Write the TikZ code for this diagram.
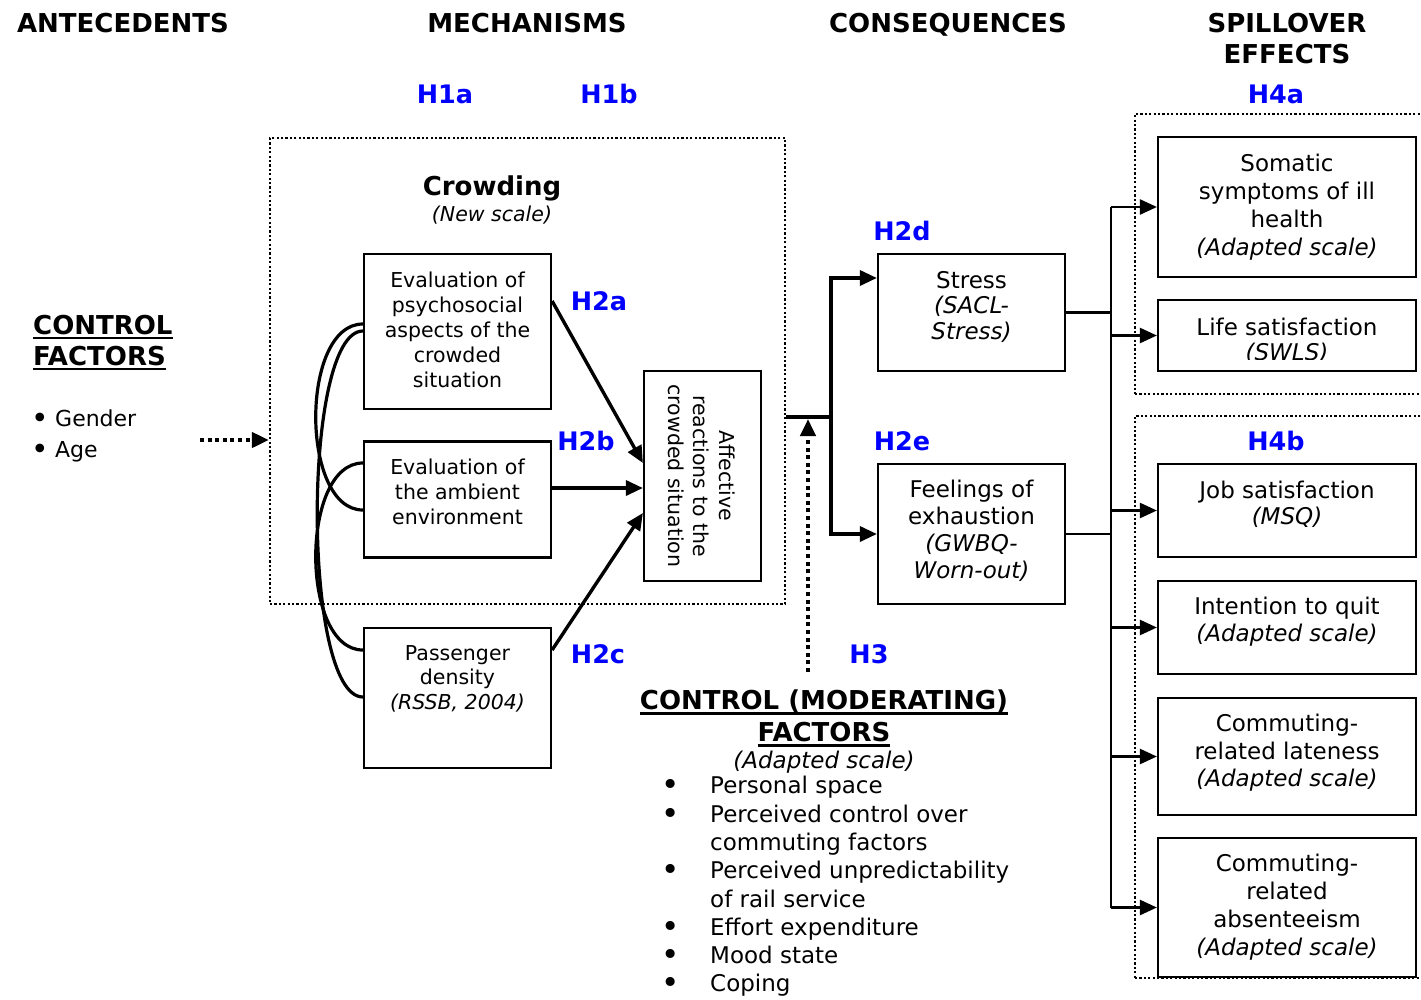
\documentclass[tikz,border=0pt]{standalone}
\usepackage{fontspec}
\setmainfont{DejaVu Sans}
\usetikzlibrary{arrows.meta}
\definecolor{hypblue}{RGB}{0,0,255}
% thick underline for the factor headings
\newcommand\thickul[1]{\setbox0\hbox{#1}\rlap{\rule[-5.3pt]{\wd0}{2.8pt}}\box0}
% list bullet, a little larger than the text
\newcommand\bul{\raisebox{-2pt}{\scalebox{1.35}{•}}}
\begin{document}
\begin{tikzpicture}[x=1pt,y=-1pt,
  txt/.style={align=center, inner sep=0pt},
  sm/.style={txt, font=\fontsize{20.5}{25}\selectfont},
  lg/.style={txt, font=\fontsize{23}{#1}\selectfont},
  lg/.default=28,
  hd/.style={txt, font=\fontsize{26}{31}\selectfont\bfseries},
  hyp/.style={hd, font=\fontsize{25.5}{31}\selectfont\bfseries, text=hypblue},
  box/.style={draw, line width=2.2pt, inner sep=0pt},
  dotbox/.style={draw, line width=2.2pt, dash pattern=on 2.2pt off 2.2pt, inner sep=0pt},
  link/.style={line width=3.2pt},
  thinlink/.style={line width=2.8pt},
  corr/.style={line width=3.2pt},
  tip/.style={-{Triangle[length=17pt,width=15pt]}},
  arr/.style={line width=3.4pt, tip},
  thinarr/.style={line width=2.4pt, tip},
  dotarr/.style={line width=4pt, dash pattern=on 4pt off 3.6pt, tip},
]
\useasboundingbox (0,0) rectangle (1421,999);

% column headings
\node[hd] (hant) at (123,23) {ANTECEDENTS};
\node[hd] (hmech) at (527,23) {MECHANISMS};
\node[hd] (hcons) at (948,25) {CONSEQUENCES};
\node[hd] (hspill) at (1287,39) {SPILLOVER\\EFFECTS};

% hypothesis labels
\node[hyp] (h1a) at (445,94) {H1a};
\node[hyp] (h1b) at (609,94) {H1b};
\node[hyp] (h4a) at (1276,94) {H4a};
\node[hyp] (h2a) at (599,301) {H2a};
\node[hyp] (h2b) at (586,441) {H2b};
\node[hyp] (h2c) at (598,654) {H2c};
\node[hyp] (h2d) at (902,231) {H2d};
\node[hyp] (h2e) at (902,441) {H2e};
\node[hyp] (h3) at (869,654) {H3};
\node[hyp] (h4b) at (1276,441) {H4b};

% control factors (antecedents)
\node[hd, align=left, anchor=west] (ctrl) at (33,342.5) {\thickul{CONTROL}\\\thickul{FACTORS}};
\node[txt, font=\fontsize{22}{31}\selectfont, align=left, anchor=west] (ctrllist) at (31,436)
  {\makebox[24pt][l]{\bul}Gender\\\makebox[24pt][l]{\bul}Age};

% crowding block
\node[dotbox, minimum width=515pt, minimum height=466pt] (crowd) at (527.5,371) {};
\node[hd] (crowdt) at (492,188) {Crowding};
\node[sm] (crowds) at (492,215) {\textit{(New scale)}};

\node[box, minimum width=187pt, minimum height=155pt] (psy) at (457.5,331.5) {};
\node[sm] (psyt) at (457.5,330) {Evaluation of\\psychosocial\\aspects of the\\crowded\\situation};
\node[box, minimum width=187pt, minimum height=116pt] (amb) at (457.5,499.5) {};
\node[sm] (ambt) at (457.5,492) {Evaluation of\\the ambient\\environment};
\node[box, minimum width=187pt, minimum height=140pt] (pd) at (457.5,698) {};
\node[sm, font=\fontsize{20.5}{24.5}\selectfont] (pdt) at (457.5,678.5) {Passenger\\density\\\textit{(RSSB, 2004)}};
\node[box, minimum width=117pt, minimum height=210pt] (aff) at (702.5,476) {};
\node[sm, font=\fontsize{20.5}{25.5}\selectfont, rotate=-90] (afft) at (701.5,476)
  {Affective\\reactions to the\\crowded situation};

% consequences
\node[box, minimum width=187pt, minimum height=117pt] (stress) at (971.5,312.5) {};
\node[lg=25.5] (stresst) at (971.5,306.5) {Stress\\\textit{(SACL-}\\\textit{Stress)}};
\node[box, minimum width=187pt, minimum height=140pt] (exh) at (971.5,534) {};
\node[lg=27] (exht) at (971.5,530.5) {Feelings of\\exhaustion\\\textit{(GWBQ-}\\\textit{Worn-out)}};

% spillover effects
\node[dotbox, minimum width=295pt, minimum height=280pt] (grpa) at (1282.5,254) {};
\node[dotbox, minimum width=295pt, minimum height=562pt] (grpb) at (1282.5,697) {};

\node[box, minimum width=258pt, minimum height=140pt] (som) at (1287,207) {};
\node[lg] (somt) at (1287,207) {Somatic\\symptoms of ill\\health\\\textit{(Adapted scale)}};
\node[box, minimum width=258pt, minimum height=71pt] (life) at (1287,335.5) {};
\begin{scope}
  \clip (1160,300) rectangle (1414,359.5);
  \node[lg=25.5] (lifet) at (1287,341) {Life satisfaction\\\textit{(SWLS)}};
\end{scope}
\node[box, minimum width=258pt, minimum height=93pt] (job) at (1287,510.5) {};
\node[lg=26] (jobt) at (1287,504.5) {Job satisfaction\\\textit{(MSQ)}};
\node[box, minimum width=258pt, minimum height=93pt] (quit) at (1287,627.5) {};
\node[lg=27] (quitt) at (1287,622) {Intention to quit\\\textit{(Adapted scale)}};
\node[box, minimum width=258pt, minimum height=117pt] (late) at (1287,756.5) {};
\node[lg=27.5] (latet) at (1287,753) {Commuting-\\related lateness\\\textit{(Adapted scale)}};
\node[box, minimum width=258pt, minimum height=139pt] (abs) at (1287,907.5) {};
\node[lg] (abst) at (1287,907.5) {Commuting-\\related\\absenteeism\\\textit{(Adapted scale)}};

% moderating factors
\node[hd, font=\fontsize{26}{32}\selectfont\bfseries] (mod) at (824,718)
  {\thickul{CONTROL (MODERATING)}\\\thickul{FACTORS}};
\node[lg] (mods) at (824,762.5) {\textit{(Adapted scale)}};
\node[txt, font=\fontsize{23}{28.3}\selectfont, align=left, anchor=west] (modlist) at (661,886.5)
  {\makebox[49pt][l]{\bul}Personal space\\
   \makebox[49pt][l]{\bul}Perceived control over\\
   \hspace*{49pt}commuting factors\\
   \makebox[49pt][l]{\bul}Perceived unpredictability\\
   \hspace*{49pt}of rail service\\
   \makebox[49pt][l]{\bul}Effort expenditure\\
   \makebox[49pt][l]{\bul}Mood state\\
   \makebox[49pt][l]{\bul}Coping};

% correlations between the crowding measures
\draw[corr] (psy.west |- 0,324) .. controls (300,324) and (300,510) .. (amb.west |- 0,510);
\draw[corr] (psy.west |- 0,331) .. controls (302,331) and (302,697) .. (pd.west |- 0,697);
\draw[corr] (amb.west |- 0,463) .. controls (300,463) and (300,650) .. (pd.west |- 0,650);

% paths into affective reactions
\draw[arr] (psy.east |- 0,301) -- (aff.west |- 0,463);
\draw[arr] (amb.east |- 0,488) -- (aff.west |- 0,488);
\draw[arr] (pd.east |- 0,650) -- (aff.west |- 0,513);

% control factors feed the crowding block
\coordinate (ctrlfoot) at (200,440);
\draw[dotarr] (ctrlfoot) -- (crowd.west |- ctrlfoot);

% crowding to consequences
\coordinate (split) at (831,417);
\draw[link] (crowd.east |- split) -- (split);
\draw[arr] (split) |- (stress.west |- 0,278);
\draw[arr] (split) |- (exh.west);

% moderating path
\coordinate (modfoot) at (808,672);
\coordinate (modtip) at (808,419);
\draw[dotarr] (modfoot) -- (modtip);

% consequences to spillover effects
\coordinate (bustop) at (1111,207);
\coordinate (busbot) at (1111,908);
\draw[thinlink] (bustop) -- (busbot);
\draw[thinlink] (stress.east) -- (stress.east -| bustop);
\draw[thinlink] (exh.east) -- (exh.east -| bustop);
\draw[thinarr] (bustop) -- (som.west);
\draw[thinarr] (life.west -| bustop) -- (life.west);
\draw[thinarr] (job.west -| bustop) -- (job.west);
\draw[thinarr] (quit.west -| bustop) -- (quit.west);
\draw[thinarr] (late.west -| bustop) -- (late.west);
\draw[thinarr] (abs.west -| bustop) -- (abs.west);
\end{tikzpicture}
\end{document}
